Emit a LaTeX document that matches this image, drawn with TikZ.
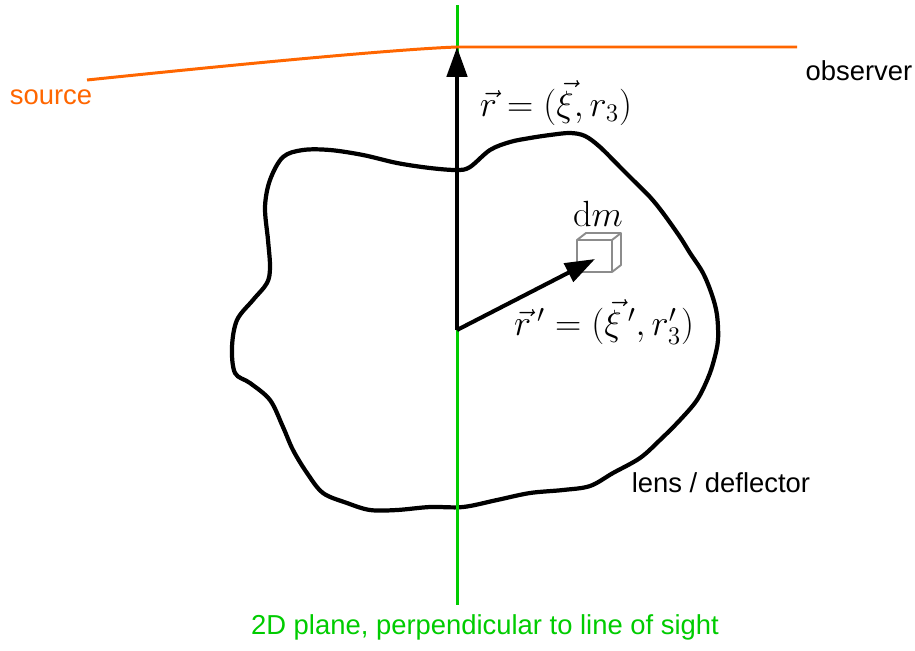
\documentclass[tikz,border=0pt]{standalone}
\usepackage[no-math]{fontspec}
\newfontfamily\arialfont{Liberation Sans}
\usepackage{xcolor}
\usepackage{tikz}
\usetikzlibrary{arrows.meta, positioning}

\definecolor{srcorange}{RGB}{255,102,0}
\definecolor{planegreen}{RGB}{0,204,0}
\definecolor{cubegray}{RGB}{140,140,140}

\begin{document}
\begin{tikzpicture}[
  x=0.02cm, y=-0.02cm,
  txtlabel/.style={
    font=\arialfont\fontsize{15.6}{18}\selectfont, inner sep=0pt
  },
  mathlabel/.style={
    font=\fontsize{22}{26}\selectfont, inner sep=0pt
  },
  vecarrow/.style={-{Triangle[length=17pt,width=11.5pt]}, line width=2.3pt, black},
  blobline/.style={line width=2.4pt, line join=round, black},
  planeline/.style={line width=1.7pt, planegreen},
  raysline/.style={line width=1.7pt, srcorange},
  cubeline/.style={draw=cubegray, line width=1.1pt, line join=round}
]
\useasboundingbox (0,0) rectangle (915,650);

% ── Key points ──────────────────────────────────────────────
\coordinate (origin)   at (457,330);
\coordinate (rtip)     at (457,47);
\coordinate (dmtip)    at (595,259);
\coordinate (planetop) at (457,5);
\coordinate (planebot) at (457,605);
\coordinate (srcend)   at (87,80);
\coordinate (obsend)   at (797,47);

% ── Lens / deflector outline ────────────────────────────────
\draw[blobline] plot[smooth cycle, tension=0.55] coordinates {
  (457,170) (470,167) (490,150) (510,142) (530,138) (550,135) (570,133)
  (585,136) (600,147) (620,167) (633,180) (650,197) (663,213) (680,237)
  (690,253) (703,273) (712,295) (717,315) (718,340) (714,360) (708,378)
  (697,400) (680,420) (660,440) (640,458) (613,473) (590,486) (563,490)
  (530,493) (497,500) (463,507) (430,507) (397,510) (370,510) (347,503)
  (323,493) (307,473) (293,450) (283,427) (270,400) (250,383) (235,373)
  (232,347) (237,320) (253,300) (267,283) (270,267) (268,240) (265,207)
  (270,180) (283,157) (303,150) (330,150) (363,155) (397,163) (430,168)
};

% ── 2D plane (line of sight cut) ────────────────────────────
\draw[planeline] (planetop) -- (planebot);

% ── Light path source -> observer ───────────────────────────
\draw[raysline] (srcend) .. controls (250,63) and (400,49) .. (rtip) -- (obsend);

% ── Mass element dm ─────────────────────────────────────────
\draw[cubeline] (577,240) rectangle (612,272);
\draw[cubeline] (577,240) -- ++(9,-7) -- ++(35,0) -- ++(0,32) -- (612,272);
\draw[cubeline] (612,240) -- ++(9,-7);

% ── Position vectors ────────────────────────────────────────
\draw[vecarrow] (origin) -- (rtip);
\draw[vecarrow] (origin) -- (dmtip);

% ── Labels ──────────────────────────────────────────────────
\node[mathlabel] (rlabel)  at (556,103) {$\vec{r} = (\vec{\xi}, r_3)$};
\node[mathlabel] (rplabel) at (604,322) {$\vec{r}\,' = (\vec{\xi}\,', r_3')$};
\node[mathlabel] (dmlabel) at (598,214) {$\mathrm{d}m$};

\node[txtlabel, text=srcorange]  (source)   at (51,97)   {source};
\node[txtlabel]                  (observer) at (859,71)  {observer};
\node[txtlabel]                  (lens)     at (721,483) {lens / deflector};
\node[txtlabel, text=planegreen] (plane)    at (485,627) {2D plane, perpendicular to line of sight};

\end{tikzpicture}
\end{document}
